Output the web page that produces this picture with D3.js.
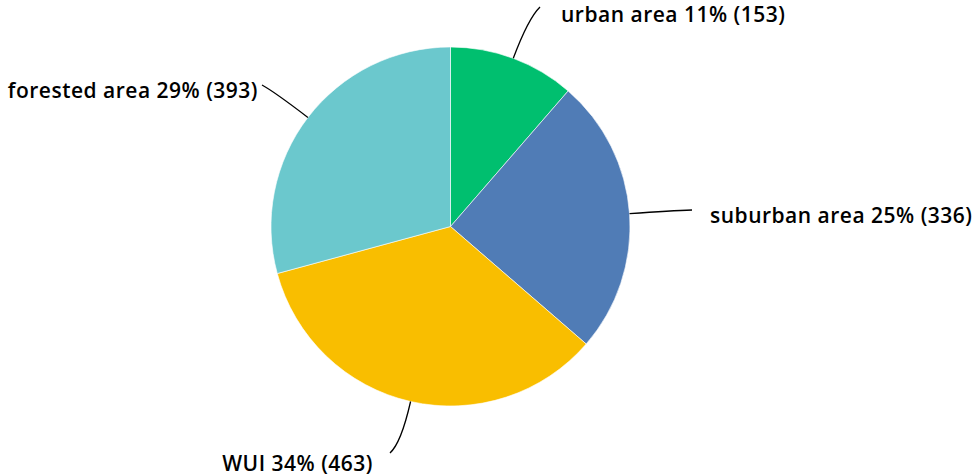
<!DOCTYPE html>
<html>
<head>
<meta charset="utf-8">
<script src="https://cdn.jsdelivr.net/npm/d3@7"></script>
<style>
  html, body { margin: 0; padding: 0; background: #fff; }
  .slice-label { font-family: "Open Sans", "Noto Sans", sans-serif; font-weight: 600; font-size: 21px; letter-spacing: 0.5px; fill: #000; }
</style>
</head>
<body>
<svg id="chart"></svg>
<script>
const width = 977, height = 474;

const categories = ["urban area", "suburban area", "WUI", "forested area"];
const counts = [153, 336, 463, 393];
const percents = [11, 25, 34, 29];
const colors = ["#00bf6f", "#507cb6", "#f9be00", "#6bc8cd"];

const cx = 450.5, cy = 226.5, radius = 179.5;

// where each connector ends (page coords) and how the text sits from there
const connectorEnd = [[540, 7], [692, 210], [390, 453], [262, 85]];
const labelNudge = [[21, 14.7], [18, 13], [-17, 18], [-4, 12.7]];

const svg = d3.select("#chart")
    .attr("width", width)
    .attr("height", height);

const pie = d3.pie().sort(null).value(d => d)(counts);

const arc = d3.arc().innerRadius(0).outerRadius(radius);

const g = svg.append("g").attr("transform", `translate(${cx},${cy})`);

g.selectAll("path.slice")
    .data(pie)
    .join("path")
    .attr("class", "slice")
    .attr("d", arc)
    .attr("fill", (d, i) => colors[i])
    .attr("stroke", "#fff")
    .attr("stroke-width", 0.6);

const polar = (a, r) => [r * Math.sin(a), -r * Math.cos(a)];

pie.forEach((d, i) => {
    const mid = (d.startAngle + d.endAngle) / 2;
    const p0 = polar(mid, radius);
    const p1 = polar(mid, 222);
    const p2 = [connectorEnd[i][0] - cx, connectorEnd[i][1] - cy];

    const path = d3.path();
    path.moveTo(p0[0], p0[1]);
    path.quadraticCurveTo(p1[0], p1[1], p2[0], p2[1]);

    g.append("path")
        .attr("d", path.toString())
        .attr("fill", "none")
        .attr("stroke", "#000")
        .attr("stroke-width", 1.3);

    const right = p2[0] > 0;
    g.append("text")
        .attr("class", "slice-label")
        .attr("x", p2[0] + labelNudge[i][0])
        .attr("y", p2[1] + labelNudge[i][1])
        .attr("text-anchor", right ? "start" : "end")
        .text(`${categories[i]} ${percents[i]}% (${counts[i]})`);
});
</script>
</body>
</html>
